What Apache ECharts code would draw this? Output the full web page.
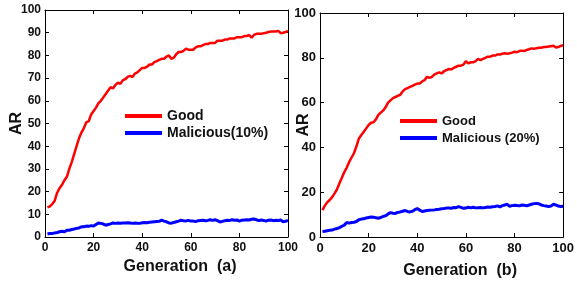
<!DOCTYPE html>
<html>
<head>
<meta charset="utf-8">
<script src="https://cdn.jsdelivr.net/npm/echarts@6/dist/echarts.min.js"></script>
<style>
  html, body { margin: 0; padding: 0; background: #fff; }
  #chart { width: 577px; height: 284px; }
</style>
</head>
<body>
<div id="chart"></div>
<script>
// generations 1..100 (x positions)
var generations = Array.from({ length: 100 }, function (_, i) { return i + 1 })

// (a) Malicious 10%
var goodA = [
  13.0, 13.5, 14.5, 16.0, 19.5, 21.5, 23.0, 25.0, 26.5, 30.0,
  33.0, 36.5, 40.0, 43.5, 46.0, 48.0, 50.5, 51.0, 54.0, 55.5,
  57.0, 59.0, 60.0, 61.5, 63.0, 64.5, 66.0, 65.5, 67.0, 68.0,
  67.5, 69.0, 69.5, 70.5, 71.0, 70.5, 72.0, 72.5, 73.5, 74.5,
  74.5, 75.0, 76.0, 76.0, 77.0, 77.5, 78.0, 78.5, 78.5, 79.5,
  80.0, 78.5, 79.0, 80.5, 81.5, 81.5, 82.0, 83.0, 82.5, 82.5,
  82.5, 83.5, 84.0, 84.0, 84.5, 85.0, 85.0, 85.5, 85.5, 85.5,
  86.5, 86.5, 86.5, 87.0, 87.0, 87.5, 87.5, 87.5, 88.0, 88.0,
  88.0, 88.5, 88.5, 89.0, 87.8, 89.0, 89.5, 89.5, 89.5, 89.8,
  90.0, 90.3, 90.5, 90.5, 90.5, 90.8, 89.8, 90.0, 90.3, 90.8
]
var maliciousA = [
  1.3, 1.5, 1.5, 1.8, 2.0, 2.3, 2.5, 2.3, 3.0, 3.0,
  3.3, 3.5, 3.8, 4.0, 4.5, 4.5, 4.8, 4.7, 5.0, 4.8,
  5.5, 6.2, 6.0, 5.7, 5.2, 5.5, 5.8, 6.2, 6.0, 6.2,
  6.1, 6.2, 6.2, 6.3, 6.2, 6.0, 6.2, 6.1, 6.0, 6.3,
  6.4, 6.3, 6.5, 6.6, 6.7, 6.8, 6.9, 7.4, 7.0, 6.7,
  6.2, 6.1, 6.4, 6.7, 7.0, 7.4, 7.2, 7.1, 7.3, 7.0,
  7.0, 6.8, 7.2, 7.3, 7.4, 7.2, 7.3, 7.6, 7.3, 7.6,
  7.2, 6.6, 6.9, 7.2, 7.4, 7.3, 7.6, 7.4, 7.5, 7.0,
  7.4, 7.5, 7.6, 7.5, 7.8, 7.9, 7.6, 7.2, 7.5, 7.3,
  7.0, 7.4, 7.5, 7.2, 7.4, 7.3, 7.5, 6.7, 6.9, 7.3
]

// (b) Malicious 20%
var goodB = [
  12.0, 14.0, 15.5, 16.5, 17.8, 19.5, 21.3, 24.0, 26.5, 29.0,
  31.0, 33.5, 35.5, 37.5, 40.5, 44.0, 45.5, 47.0, 48.5, 50.0,
  51.0, 51.2, 52.5, 54.5, 55.5, 56.5, 58.0, 60.0, 61.0, 62.0,
  62.5, 63.0, 63.5, 65.0, 66.0, 66.5, 67.0, 67.5, 68.0, 68.5,
  68.5, 69.5, 70.0, 71.5, 71.0, 71.5, 72.5, 73.0, 73.5, 73.0,
  74.0, 74.5, 75.0, 74.8, 75.5, 76.0, 76.5, 76.5, 77.0, 78.5,
  77.5, 78.0, 78.0, 78.5, 79.5, 79.0, 79.5, 80.0, 80.5, 80.5,
  81.0, 81.0, 81.5, 81.5, 81.8, 82.0, 81.8, 82.0, 82.3, 82.7,
  82.5, 83.0, 83.2, 83.0, 83.5, 83.8, 84.2, 84.0, 84.3, 84.5,
  84.5, 84.8, 84.8, 85.0, 85.2, 85.4, 84.6, 84.8, 85.3, 85.6
]
var maliciousB = [
  2.4, 2.6, 2.8, 3.0, 3.1, 3.5, 3.8, 4.2, 4.8, 5.3,
  6.5, 6.2, 6.5, 6.6, 6.9, 7.7, 8.0, 8.1, 8.5, 8.7,
  8.9, 8.8, 8.6, 8.4, 8.7, 9.2, 9.5, 10.3, 10.9, 10.6,
  10.5, 11.0, 11.2, 11.5, 11.8, 11.4, 11.2, 11.5, 12.2, 12.7,
  12.0, 11.4, 11.6, 11.8, 11.9, 12.0, 12.1, 12.3, 12.4, 12.6,
  12.7, 12.9, 13.0, 12.8, 13.2, 13.1, 13.6, 13.2, 12.8, 12.9,
  13.3, 13.0, 13.3, 13.0, 13.1, 13.2, 13.0, 13.2, 13.4, 13.3,
  13.5, 13.6, 13.9, 13.4, 14.0, 14.3, 14.6, 13.7, 14.0, 14.2,
  14.1, 13.9, 14.3, 14.2, 13.9, 14.3, 14.6, 14.9, 15.0, 14.8,
  14.3, 14.0, 13.8, 13.6, 13.8, 14.6, 14.3, 13.8, 13.6, 13.7
]

var namesA = ['Good', 'Malicious(10%)']
var namesB = ['Good', 'Malicious (20%)']
var font = 'Liberation Sans, Arial, sans-serif'

function pairs(ys) {
  return ys.map(function (v, i) { return [generations[i], v] })
}

// x/y axes with MATLAB style box (ticks on all 4 sides)
function makeX(grid, name, gap, pad, labelSize) {
  return [{
    type: 'value', gridIndex: grid, min: 0, max: 100, interval: 20,
    name: name, nameLocation: 'middle', nameGap: gap, nameMoveOverlap: false,
    nameTextStyle: { fontFamily: font, fontWeight: 'bold', fontSize: 16, color: '#111', padding: [0, 0, 0, pad] },
    axisLine: { onZero: false, lineStyle: { color: '#000', width: 1 } },
    axisTick: { inside: true, length: 4, lineStyle: { color: '#000' } },
    axisLabel: { margin: 5, fontFamily: font, fontWeight: 'bold', fontSize: labelSize, color: '#111' },
    splitLine: { show: false }
  }, {
    type: 'value', gridIndex: grid, min: 0, max: 100, interval: 20, position: 'top',
    axisLine: { onZero: false, lineStyle: { color: '#000', width: 1 } },
    axisTick: { inside: true, length: 4, lineStyle: { color: '#000' } },
    axisLabel: { show: false },
    splitLine: { show: false }
  }]
}
function makeY(grid, step, gap, labelSize) {
  return [{
    type: 'value', gridIndex: grid, min: 0, max: 100, interval: step,
    name: 'AR', nameLocation: 'middle', nameGap: gap, nameRotate: 90, nameMoveOverlap: false,
    nameTextStyle: { fontFamily: font, fontWeight: 'bold', fontSize: 16, color: '#111' },
    axisLine: { show: true, onZero: false, lineStyle: { color: '#000', width: 1 } },
    axisTick: { show: true, inside: true, length: 4, lineStyle: { color: '#000' } },
    axisLabel: { margin: 4, fontFamily: font, fontWeight: 'bold', fontSize: labelSize, color: '#111' },
    splitLine: { show: false }
  }, {
    type: 'value', gridIndex: grid, min: 0, max: 100, interval: step, position: 'right',
    axisLine: { show: true, onZero: false, lineStyle: { color: '#000', width: 1 } },
    axisTick: { show: true, inside: true, length: 4, lineStyle: { color: '#000' } },
    axisLabel: { show: false },
    splitLine: { show: false }
  }]
}

var chart = echarts.init(document.getElementById('chart'), null, { renderer: 'canvas' })
chart.setOption({
  animation: false,
  backgroundColor: '#fff',
  grid: [
    { left: 45, top: 10, width: 243, height: 227 },
    { left: 320, top: 13, width: 251, height: 224 }
  ],
  xAxis: makeX(0, 'Generation  (a)', 22, 27, 12).concat(makeX(1, 'Generation  (b)', 26, 37, 13)),
  yAxis: makeY(0, 10, 20, 12).concat(makeY(1, 20, 8, 13)),
  legend: [{
    data: namesA, orient: 'vertical', left: 125, top: 108, padding: 0,
    icon: 'rect', itemWidth: 37, itemHeight: 4, itemGap: 1,
    textStyle: { fontFamily: font, fontWeight: 'bold', fontSize: 14, color: '#111', lineHeight: 16 }
  }, {
    data: namesB, orient: 'vertical', left: 400, top: 113, padding: 0,
    icon: 'rect', itemWidth: 37, itemHeight: 4, itemGap: 1,
    textStyle: { fontFamily: font, fontWeight: 'bold', fontSize: 13, color: '#111', lineHeight: 16 }
  }],
  series: [
    { name: namesA[0], type: 'line', xAxisIndex: 0, yAxisIndex: 0, data: pairs(goodA), showSymbol: false, color: '#ff0000', lineStyle: { width: 2.5 } },
    { name: namesA[1], type: 'line', xAxisIndex: 0, yAxisIndex: 0, data: pairs(maliciousA), showSymbol: false, color: '#0000ff', lineStyle: { width: 3 } },
    { name: namesB[0], type: 'line', xAxisIndex: 2, yAxisIndex: 2, data: pairs(goodB), showSymbol: false, color: '#ff0000', lineStyle: { width: 2.5 } },
    { name: namesB[1], type: 'line', xAxisIndex: 2, yAxisIndex: 2, data: pairs(maliciousB), showSymbol: false, color: '#0000ff', lineStyle: { width: 3 } }
  ]
})
</script>
</body>
</html>
